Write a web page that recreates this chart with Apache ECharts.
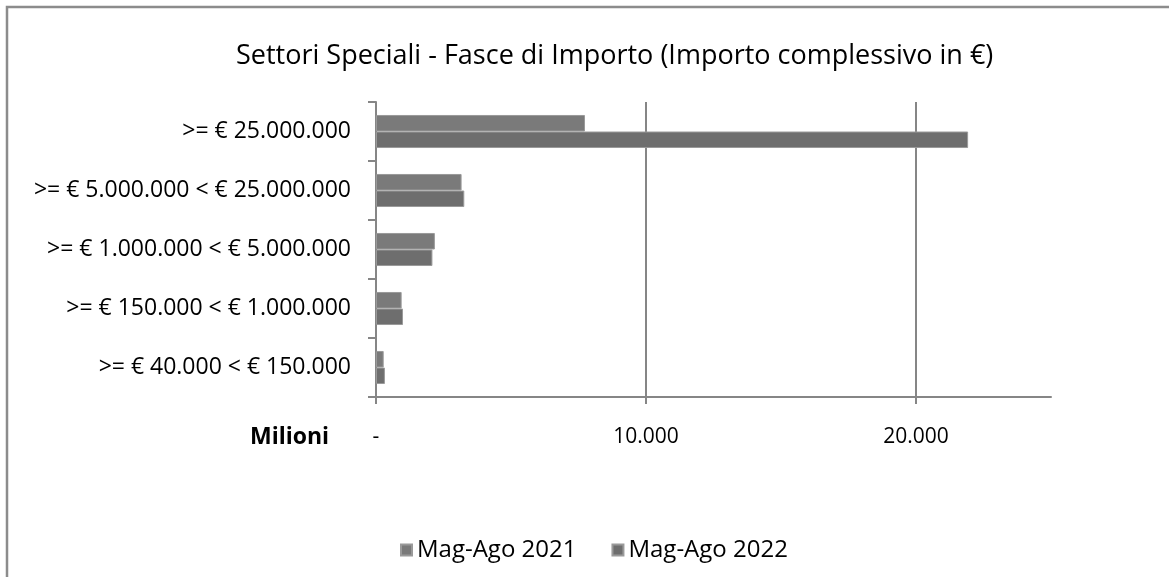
<!DOCTYPE html>
<html>
<head>
<meta charset="utf-8">
<script src="https://cdn.jsdelivr.net/npm/echarts@6/dist/echarts.min.js"></script>
<style>html,body{margin:0;padding:0;background:#fff;}#c{width:1169px;height:577px;}</style>
</head>
<body>
<div id="c"></div>
<script>
const titleText = 'Settori Speciali - Fasce di Importo (Importo complessivo in €)';
const categories = ['>= € 25.000.000', '>= € 5.000.000 < € 25.000.000', '>= € 1.000.000 < € 5.000.000', '>= € 150.000 < € 1.000.000', '>= € 40.000 < € 150.000'];
const seriesNames = ['Mag-Ago 2021', 'Mag-Ago 2022'];
const values2021 = [7740, 3170, 2180, 950, 285];
const values2022 = [21930, 3270, 2090, 1000, 330];
const axisMax = 25000;
const axisInterval = 10000;
const unitLabel = 'Milioni';

const FONT = 'Open Sans';
const chart = echarts.init(document.getElementById('c'), null, {renderer: 'canvas'});
function fmt(v) {
  if (v === 0) return '-';
  return String(v).replace(/\B(?=(\d{3})+(?!\d))/g, '.');
}
chart.setOption({
  animation: false,
  backgroundColor: '#fff',
  textStyle: {fontFamily: FONT},
  title: {
    text: titleText, left: 231, top: 38,
    textStyle: {fontFamily: FONT, fontSize: 27, fontWeight: 'normal', color: '#000'}
  },
  legend: {
    data: seriesNames, left: 395, top: 533, icon: 'rect', itemWidth: 11, itemHeight: 11, itemGap: 35,
    textStyle: {fontFamily: FONT, fontSize: 24, color: '#000'}
  },
  grid: {left: 376, right: 118, top: 102, bottom: 180, containLabel: false},
  xAxis: {
    type: 'value', min: 0, max: axisMax, interval: axisInterval,
    axisLine: {show: true, lineStyle: {color: '#868686', width: 2}},
    axisTick: {show: true, length: 7, lineStyle: {color: '#868686', width: 2}},
    splitLine: {show: true, showMinLine: false, showMaxLine: false, lineStyle: {color: '#868686', width: 2}},
    axisLabel: {margin: 30, fontFamily: FONT, fontSize: 21, color: '#000', showMaxLabel: false, formatter: fmt}
  },
  yAxis: {
    type: 'category', data: categories, inverse: true,
    axisLine: {show: true, lineStyle: {color: '#868686', width: 2}},
    axisTick: {show: true, length: 8, lineStyle: {color: '#868686', width: 2}},
    axisLabel: {margin: 25, fontFamily: FONT, fontSize: 23, color: '#000'}
  },
  series: [
    {name: seriesNames[0], type: 'bar', data: values2021, barCategoryGap: '44%', barGap: '0%',
     itemStyle: {color: '#7a7a7a', borderColor: '#9a9a9a', borderWidth: 1}},
    {name: seriesNames[1], type: 'bar', data: values2022, barCategoryGap: '44%', barGap: '0%',
     itemStyle: {color: '#6e6e6e', borderColor: '#9a9a9a', borderWidth: 1}}
  ],
  graphic: [
    {type: 'rect', shape: {x: 7, y: 7, width: 1250, height: 650}, style: {fill: 'none', stroke: '#8c8c8c', lineWidth: 2.5}, silent: true},
    {type: 'text', left: 250, top: 426, style: {text: unitLabel, fontFamily: FONT, fontSize: 23, fontWeight: 'bold', fill: '#000'}}
  ]
});
</script>
</body>
</html>
